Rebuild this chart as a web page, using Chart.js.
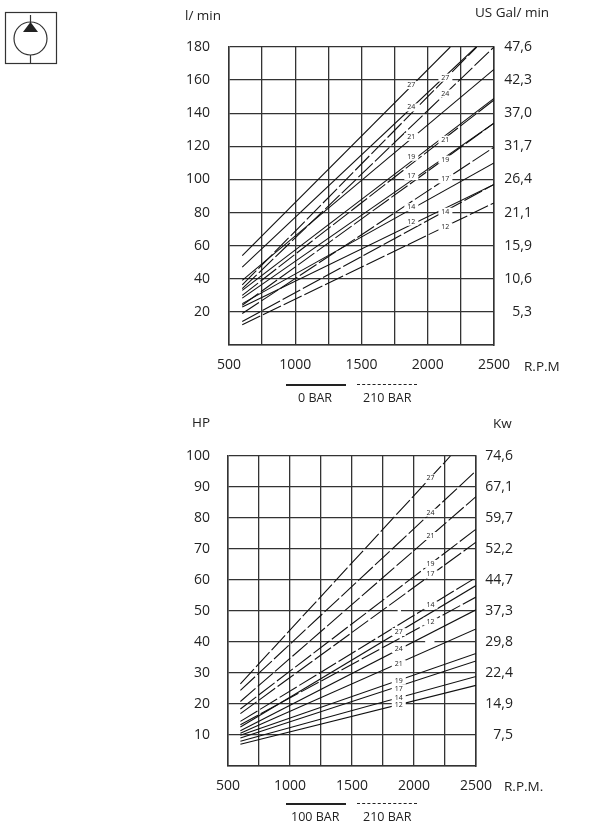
<!DOCTYPE html>
<html>
<head>
<meta charset="utf-8">
<title>Pump curves</title>
<script src="https://cdn.jsdelivr.net/npm/chart.js@4/dist/chart.umd.min.js"></script>
<style>
  html, body { margin: 0; padding: 0; background: #fff; }
  #page { position: relative; width: 600px; height: 824px; overflow: hidden; font-family: "Open Sans", sans-serif; color: #222; }
  canvas { position: absolute; left: 0; }
  .cap { position: absolute; font-size: 13.5px; line-height: 16px; white-space: nowrap; transform: translateY(-50%); }
  .bar { font-size: 12.5px; }
  .leg { position: absolute; width: 60px; border-top: 2px solid #222; }
  .leg.dash { border-top: 1.5px dashed #222; }
  svg { position: absolute; left: 0; top: 0; }
</style>
</head>
<body>
<div id="page">
  <svg width="64" height="70">
    <rect x="5.5" y="12.5" width="51" height="51" fill="none" stroke="#333" stroke-width="1.2"/>
    <circle cx="30.5" cy="38.5" r="16.5" fill="none" stroke="#333" stroke-width="1.2"/>
    <path d="M30.5 15V23M30.5 55V63" stroke="#333" stroke-width="1.2"/>
    <path d="M30.5 22L38 32H23Z" fill="#222"/>
  </svg>

  <canvas id="flowChart" width="600" height="410" style="top:0"></canvas>
  <canvas id="powerChart" width="600" height="414" style="top:410px"></canvas>

  <div class="cap" style="left:185px;top:15px">l/ min</div>
  <div class="cap" style="left:475px;top:12px">US Gal/ min</div>
  <div class="cap" style="left:524px;top:366px">R.P.M</div>
  <div class="leg" style="left:286px;top:384px"></div>
  <div class="leg dash" style="left:357px;top:384px"></div>
  <div class="cap bar" style="left:298px;top:398px">0 BAR</div>
  <div class="cap bar" style="left:363px;top:398px">210 BAR</div>

  <div class="cap" style="left:192px;top:422px">HP</div>
  <div class="cap" style="left:493px;top:423px">Kw</div>
  <div class="cap" style="left:504px;top:786px">R.P.M.</div>
  <div class="leg" style="left:286px;top:803px"></div>
  <div class="leg dash" style="left:357px;top:803px"></div>
  <div class="cap bar" style="left:291px;top:817px">100 BAR</div>
  <div class="cap bar" style="left:363px;top:817px">210 BAR</div>
</div>

<script>
// pump sizes, same order in every array below
const sizes = [27, 24, 21, 19, 17, 14, 12];
const startRpm = 600;

// top chart, l/min
const flowTicks = [20, 40, 60, 80, 100, 120, 140, 160, 180];
const gpmTicks = ['5,3', '10,6', '15,9', '21,1', '26,4', '31,7', '37,0', '42,3', '47,6'];
const flow0Start = [54, 47, 39, 33, 28.3, 25, 23];
const flow0End = [180, 180, 166.5, 149, 134, 110, 97];
const flow0EndRpm = [2170, 2365, 2500, 2500, 2500, 2500, 2500];
const flow0LabelY = [157, 143.5, 125.7, 113.7, 102, 83.2, 74.5];
const flow210Start = [36.3, 34, 30, 24, 19, 14.2, 12.2];
const flow210End = [180, 180, 148, 134, 119.5, 97, 85.8];
const flow210EndRpm = [2370, 2500, 2500, 2500, 2500, 2500, 2500];
const flow210LabelY = [161.5, 151.9, 124, 112, 100, 80.5, 71.5];

// bottom chart, HP
const powerTicks = [10, 20, 30, 40, 50, 60, 70, 80, 90, 100];
const kwTicks = ['7,5', '14,9', '22,4', '29,8', '37,3', '44,7', '52,2', '59,7', '67,1', '74,6'];
const power100Start = [12.6, 11.4, 10.6, 9.9, 9, 8, 7];
const power100End = [58.2, 50.4, 44.2, 36.3, 33.9, 28.9, 26];
const power100EndRpm = [2500, 2500, 2500, 2500, 2500, 2500, 2500];
const power100LabelY = [43.2, 37.7, 32.9, 27.5, 24.9, 21.9, 19.7];
const power210Start = [26.5, 24.4, 20.8, 18.4, 16.9, 14.4, 13.3];
const power210End = [100, 95.2, 86.9, 76.4, 72.2, 60.8, 54.5];
const power210EndRpm = [2294, 2500, 2500, 2500, 2500, 2500, 2500];
const power210LabelY = [92.8, 81.7, 74.2, 65.2, 61.9, 51.8, 46.6];

// breaks in the printed grid of the bottom chart: [rpm from, rpm to, value]
const powerGridGaps = [[1868, 1895, 50], [2090, 2165, 40]];

const textColor = '#222';
const gridColor = '#333';
const fontName = '"Open Sans", sans-serif';

function lineDataset(name, starts, ends, endRpms, dashed) {
  return sizes.map((size, i) => ({
    label: `${size} ${name}`,
    data: [{ x: startRpm, y: starts[i] }, { x: endRpms[i], y: ends[i] }],
    borderColor: '#111',
    borderWidth: 1.1,
    borderDash: dashed ? [20, 3] : [],
    pointRadius: 0,
    showLine: true,
    fill: false
  }));
}

// white break in the curve with the pump size written in it
function sizeLabels(items, gaps) {
  return {
    id: 'sizeLabels',
    afterDatasetsDraw(chart) {
      const { ctx, scales } = chart;
      ctx.save();
      ctx.fillStyle = '#fff';
      gaps.forEach(g => {
        const x1 = scales.x.getPixelForValue(g[0]);
        const x2 = scales.x.getPixelForValue(g[1]);
        ctx.fillRect(x1, scales.y.getPixelForValue(g[2]) - 1.5, x2 - x1, 3);
      });
      ctx.font = `7px ${fontName}`;
      ctx.textAlign = 'center';
      ctx.textBaseline = 'middle';
      items.forEach(item => {
        const x = scales.x.getPixelForValue(item.rpm);
        const y = scales.y.getPixelForValue(item.value);
        ctx.fillStyle = '#fff';
        ctx.fillRect(x - 7, y - 4, 14, 8);
        ctx.fillStyle = textColor;
        ctx.fillText(item.text, x, y);
      });
      ctx.restore();
    }
  };
}

function labelItems(ys, rpm) {
  return sizes.map((size, i) => ({ text: String(size), rpm: rpm, value: ys[i] }));
}

function drawPumpChart(id, cfg) {
  const tickFont = { family: fontName, size: 14 };
  new Chart(document.getElementById(id), {
    type: 'scatter',
    data: { datasets: cfg.datasets },
    plugins: [sizeLabels(cfg.labels, cfg.gaps)],
    options: {
      responsive: false,
      animation: false,
      layout: { padding: { top: cfg.top, left: 0, right: cfg.rightGap, bottom: 0 } },
      plugins: { legend: { display: false }, tooltip: { enabled: false } },
      scales: {
        x: {
          type: 'linear',
          min: 500,
          max: 2500,
          afterBuildTicks: axis => {
            axis.ticks = [];
            for (let v = 500; v <= 2500; v += 250) axis.ticks.push({ value: v });
          },
          afterFit: axis => { axis.height = cfg.xHeight; },
          grid: { color: gridColor, lineWidth: 1.3, drawTicks: false },
          border: { color: gridColor, width: 1.5 },
          ticks: {
            autoSkip: false,
            maxRotation: 0,
            padding: cfg.xPad,
            color: textColor,
            font: tickFont,
            callback: v => (v % 500 === 0 ? String(v) : '')
          }
        },
        y: {
          position: 'left',
          min: 0,
          max: cfg.yMax,
          afterBuildTicks: axis => {
            axis.ticks = [0].concat(cfg.ticks).map(v => ({ value: v }));
          },
          afterFit: axis => { axis.width = cfg.leftWidth; },
          grid: { color: gridColor, lineWidth: 1.3, drawTicks: false },
          border: { color: gridColor, width: 1.5 },
          ticks: {
            padding: cfg.leftPad,
            color: textColor,
            font: tickFont,
            callback: v => (v === 0 ? '' : String(v))
          }
        },
        y1: {
          position: 'right',
          min: 0,
          max: cfg.yMax,
          afterBuildTicks: axis => {
            axis.ticks = [0].concat(cfg.ticks).map(v => ({ value: v }));
          },
          afterFit: axis => { axis.width = cfg.rightWidth; },
          grid: { display: false, drawTicks: false },
          border: { color: gridColor, width: 1.5 },
          ticks: {
            crossAlign: 'far',
            padding: 0,
            color: textColor,
            font: tickFont,
            callback: v => {
              const i = cfg.ticks.indexOf(v);
              return i < 0 ? '' : cfg.rightLabels[i];
            }
          }
        }
      }
    }
  });
}

window.onload = function () {
  drawPumpChart('flowChart', {
    datasets: lineDataset('0 BAR', flow0Start, flow0End, flow0EndRpm, false)
      .concat(lineDataset('210 BAR', flow210Start, flow210End, flow210EndRpm, true)),
    labels: labelItems(flow0LabelY, 1876).concat(labelItems(flow210LabelY, 2133)),
    gaps: [],
    ticks: flowTicks,
    rightLabels: gpmTicks,
    yMax: 180,
    top: 47,
    xHeight: 65,
    xPad: 12,
    leftWidth: 229,
    rightWidth: 38,
    rightGap: 68,
    leftPad: 19
  });

  drawPumpChart('powerChart', {
    datasets: lineDataset('100 BAR', power100Start, power100End, power100EndRpm, false)
      .concat(lineDataset('210 BAR', power210Start, power210End, power210EndRpm, true)),
    labels: labelItems(power100LabelY, 1877).concat(labelItems(power210LabelY, 2133)),
    gaps: powerGridGaps,
    ticks: powerTicks,
    rightLabels: kwTicks,
    yMax: 100,
    top: 46,
    xHeight: 58,
    xPad: 12,
    leftWidth: 228,
    rightWidth: 37,
    rightGap: 87,
    leftPad: 18
  });
};
</script>
</body>
</html>
